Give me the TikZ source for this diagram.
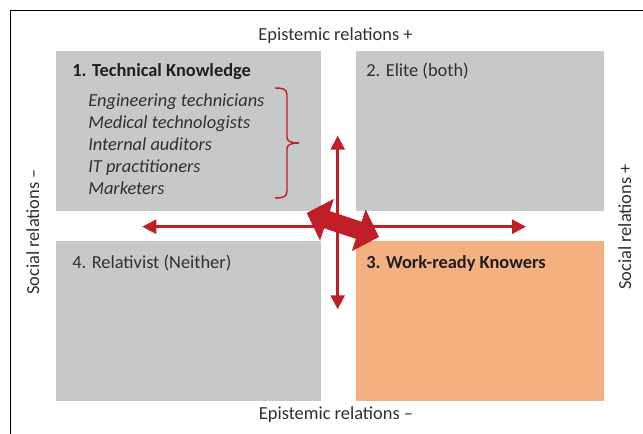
\documentclass[tikz,border=0pt]{standalone}
\usepackage{fontspec}
\setmainfont{Carlito}
\usetikzlibrary{arrows.meta, positioning, calc}

\definecolor{quadgray}{HTML}{C7C8CA}
\definecolor{quadorange}{HTML}{F4B080}
\definecolor{arrowred}{HTML}{C01F27}
\definecolor{textgray}{HTML}{303030}

\begin{document}
\begin{tikzpicture}[x=0.75pt, y=-0.75pt, font=\fontsize{13.8}{16}\selectfont, text=textgray]
		\tikzstyle{quadrant} = [rectangle, inner sep=0, minimum height=119.5pt]
		\tikzstyle{title} = [anchor=base west, inner sep=0]
		\tikzstyle{bold_title} = [anchor=base west, inner sep=0, font=\fontsize{13.8}{16}\selectfont\bfseries, text=black!88]
		\tikzstyle{job} = [anchor=base west, inner sep=0, font=\fontsize{13.8}{16}\selectfont\itshape]
		\tikzstyle{axis_label} = [anchor=base, inner sep=0]

		\tikzstyle{thin_arrow} = [{Triangle[length=10.5pt, width=10.5pt]}-{Triangle[length=10.5pt, width=10.5pt]}, line width=2pt, arrowred]
		\tikzstyle{big_arrow} = [{Triangle[length=16pt, width=32pt]}-{Triangle[length=16pt, width=32pt]}, line width=13.5pt, arrowred]

		\useasboundingbox (0,0) rectangle (643,434);

		% Frame
		\draw[line width=1.1pt, black] (10.3,434) |- (643,10.3);

		% Quadrants
		\node[quadrant, fill=quadgray, minimum width=198.5pt, anchor=north west](quad_1) at (56,51){};
		\node[quadrant, fill=quadgray, minimum width=186pt, anchor=north west](quad_2) at (356,51){};
		\node[quadrant, fill=quadorange, minimum width=186pt, anchor=north west](quad_3) at (356,241){};
		\node[quadrant, fill=quadgray, minimum width=198.5pt, anchor=north west](quad_4) at (56,241){};

		% Quadrant titles
		\node[bold_title](title_1) at ($(quad_1.north west)+(16,26)$) {1. Technical Knowledge};
		\node[title](title_2) at ($(quad_2.north west)+(10,26)$) {2. Elite (both)};
		\node[bold_title](title_3) at ($(quad_3.north west)+(10,28)$) {3. Work-ready Knowers};
		\node[title](title_4) at ($(quad_4.north west)+(16,28)$) {4. Relativist (Neither)};

		% Occupations in quadrant 1
		\foreach \job [count=\i] in {Engineering technicians, Medical technologists, Internal auditors, IT practitioners, Marketers} {
				\node[job](job_\i) at (88, 84.5+22*\i) {\job};
			};
		\draw[arrowred, line width=1.1pt] (275,88) .. controls (283,88) and (287,89) .. (287,95) -- (287,137)
			.. controls (287,141) and (290,143) .. (299,143) .. controls (290,143) and (287,145) .. (287,149)
			-- (287,191) .. controls (287,197) and (283,198) .. (275,198);

		% Axis labels
		\node[axis_label](epi_plus) at (335.5,40.7) {Epistemic relations +};
		\node[axis_label](epi_minus) at (336,420) {Epistemic relations --};
		\node[axis_label, rotate=90](soc_minus) at (39,232) {Social relations --};
		\node[axis_label, rotate=90](soc_plus) at (631,227) {Social relations +};

		% Axes
		\coordinate (h_left) at (142.3,226.7);
		\coordinate (h_right) at (526,226.7);
		\coordinate (v_top) at (337.7,135.7);
		\coordinate (v_bottom) at (337.7,309.3);
		\draw[thin_arrow] (h_left) -- (h_right);
		\draw[thin_arrow] (v_top) -- (v_bottom);

		% Shift from quadrant 1 towards quadrant 3
		\coordinate (shift_start) at (306.7,213);
		\coordinate (shift_end) at (379,237);
		\draw[big_arrow] (shift_start) -- (shift_end);

	\end{tikzpicture}
\end{document}
